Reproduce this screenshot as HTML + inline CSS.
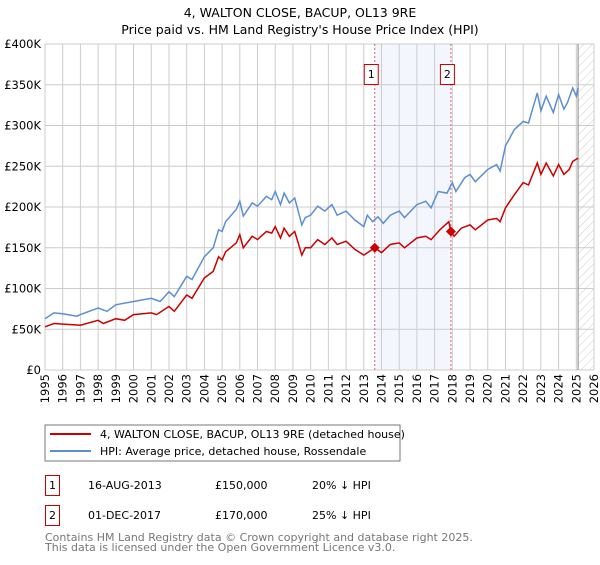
<!DOCTYPE html>
<html><head><meta charset="utf-8"><style>
body{margin:0;background:#fff;font-family:"Liberation Sans","DejaVu Sans",sans-serif}
svg text{font-family:"DejaVu Sans","Liberation Sans",sans-serif}
</style></head><body>
<svg id="c" width="600" height="560" xmlns="http://www.w3.org/2000/svg">
<defs><pattern id="hatch" width="6" height="6" patternUnits="userSpaceOnUse" patternTransform="rotate(45)"><line x1="0" y1="0" x2="0" y2="6" stroke="#ccc" stroke-width="1"/></pattern></defs>
<text x="300" y="17" text-anchor="middle" font-size="12.5" fill="#000">4, WALTON CLOSE, BACUP, OL13 9RE</text>
<text x="300" y="34" text-anchor="middle" font-size="12.5" fill="#000">Price paid vs. HM Land Registry's House Price Index (HPI)</text>
<g id="plot"></g>
<rect x="45" y="425" width="355" height="36" fill="#fff" stroke="#777"/>
<line x1="50" y1="434" x2="91" y2="434" stroke="#cc0000" stroke-width="2"/>
<text x="100" y="438" font-size="11">4, WALTON CLOSE, BACUP, OL13 9RE (detached house)</text>
<line x1="50" y1="451" x2="91" y2="451" stroke="#5b8fd0" stroke-width="2"/>
<text x="100" y="455" font-size="11">HPI: Average price, detached house, Rossendale</text>
<g>
<rect x="45.5" y="475.5" width="14" height="20" fill="#fff" stroke="#cc0000"/>
<text x="52.5" y="489" text-anchor="middle" font-size="11">1</text>
<text x="88" y="489" font-size="11">16-AUG-2013</text>
<text x="215" y="489" font-size="11">£150,000</text>
<text x="312" y="489" font-size="11">20% ↓ HPI</text></g>
<g>
<rect x="45.5" y="505.5" width="14" height="20" fill="#fff" stroke="#cc0000"/>
<text x="52.5" y="519" text-anchor="middle" font-size="11">2</text>
<text x="88" y="519" font-size="11">01-DEC-2017</text>
<text x="215" y="519" font-size="11">£170,000</text>
<text x="312" y="519" font-size="11">25% ↓ HPI</text></g>
<text x="45" y="541" font-size="11" fill="#777">Contains HM Land Registry data © Crown copyright and database right 2025.</text>
<text x="45" y="551" font-size="11" fill="#777">This data is licensed under the Open Government Licence v3.0.</text>
</svg>
<script>
const hpiYears=[1995,1995.5,1996,1996.8,1997,1998,1998.5,1999,2000,2001,2001.5,2002,2002.3,2003,2003.3,2004,2004.5,2004.8,2005,2005.2,2005.8,2006,2006.2,2006.7,2007,2007.5,2007.8,2008,2008.3,2008.5,2008.8,2009.1,2009.3,2009.5,2009.7,2010,2010.4,2010.8,2011.2,2011.5,2012,2012.5,2013,2013.2,2013.5,2013.8,2014.1,2014.5,2015,2015.3,2016,2016.5,2016.8,2017.2,2017.7,2018,2018.2,2018.7,2019,2019.3,2020,2020.5,2020.7,2021,2021.5,2022,2022.3,2022.8,2023,2023.3,2023.7,2024,2024.3,2024.5,2024.8,2025,2025.1];
const hpiValues=[63,70,69,66,68,76,72,80,84,88,84,96,90,115,111,139,150,172,170,182,197,207,189,205,201,213,209,219,203,217,205,211,195,178,187,190,201,195,203,190,195,184,176,190,182,188,180,190,195,187,203,207,199,219,217,230,219,236,240,231,246,252,244,275,295,305,303,340,318,336,316,338,320,328,346,336,346];
const priceYears=[1995,1995.5,1997,1998,1998.3,1999,1999.5,2000,2001,2001.3,2002,2002.3,2003,2003.3,2004,2004.5,2004.8,2005,2005.2,2005.8,2006,2006.2,2006.7,2007,2007.5,2007.8,2008,2008.3,2008.5,2008.8,2009.1,2009.3,2009.5,2009.7,2010,2010.4,2010.8,2011.2,2011.5,2012,2012.5,2013,2013.62,2014,2014.5,2015,2015.3,2016,2016.5,2016.8,2017.3,2017.8,2017.92,2018.1,2018.5,2019,2019.3,2020,2020.5,2020.7,2021,2021.5,2022,2022.3,2022.8,2023,2023.3,2023.7,2024,2024.3,2024.6,2024.8,2025.1];
const priceValues=[53,57,55,61,57,63,61,68,70,68,78,72,92,88,113,121,139,135,145,156,166,150,164,160,170,168,176,162,174,164,170,156,141,150,150,160,154,162,154,158,148,141,150,144,154,156,150,162,164,160,172,182,170,164,174,178,172,184,186,182,199,215,230,227,254,240,254,238,252,240,246,256,260];
const saleYears=[2013.62,2017.92];
const saleValues=[150,170];
const saleLabels=["1","2"];
const yTicks=[0,50,100,150,200,250,300,350,400];
const yTickLabels=["£0","£50K","£100K","£150K","£200K","£250K","£300K","£350K","£400K"];
const xTicks=[1995,1996,1997,1998,1999,2000,2001,2002,2003,2004,2005,2006,2007,2008,2009,2010,2011,2012,2013,2014,2015,2016,2017,2018,2019,2020,2021,2022,2023,2024,2025,2026];

const X0=45,X1=594,Y0=370,Y1=44;
const xs=y=>X0+(y-1995)/(2026-1995)*(X1-X0);
const ys=v=>Y0-v/400*(Y0-Y1);
const NS="http://www.w3.org/2000/svg";
const g=document.getElementById('plot');
function mk(t,a){const e=document.createElementNS(NS,t);for(const k in a)e.setAttribute(k,a[k]);g.appendChild(e);return e;}
let sh=mk('rect',{x:xs(saleYears[0]),y:Y1,width:xs(saleYears[1])-xs(saleYears[0]),height:Y0-Y1,fill:'#eef3fc',opacity:0.7});


let hz=mk('rect',{x:xs(2025.1),y:Y1,width:X1-xs(2025.1),height:Y0-Y1,fill:'url(#hatch)'});


yTicks.forEach((v,i)=>{
  let l=mk('line',{x1:X0,x2:X1,y1:ys(v),y2:ys(v),stroke:'#ccc'});
  
  
  let t=mk('text',{x:X0-4,y:ys(v)+4,'text-anchor':'end','font-size':'11.5'});
  t.textContent=yTickLabels[i];
  
  
});
xTicks.forEach(v=>{
  let l=mk('line',{x1:xs(v),x2:xs(v),y1:Y1,y2:Y0,stroke:'#ccc'});
  
  
  let t=mk('text',{x:0,y:0,'font-size':'11.5','text-anchor':'end',transform:`translate(${xs(v)+4},${Y0+4}) rotate(-90)`});
  t.textContent=v;
  
  
});
let cl=mk('line',{x1:xs(2025.1),x2:xs(2025.1),y1:Y1,y2:Y0,stroke:'#999','stroke-width':1.2});


saleYears.forEach((yr,i)=>{
  let l=mk('line',{x1:xs(yr),x2:xs(yr),y1:Y1,y2:Y0,stroke:'#e06070','stroke-dasharray':'2,2'});
  
  
  let r=mk('rect',{x:xs(yr)-10.5,y:64.5,width:14,height:20,fill:'#fff',stroke:'#cc0000'});
  
  
  let t=mk('text',{x:xs(yr)-3.5,y:78,'text-anchor':'middle','font-size':'11'});
  t.textContent=saleLabels[i];
  
  
});
function path(xa,va){return xa.map((x,i)=>(i?'L':'M')+xs(x).toFixed(1)+','+ys(va[i]).toFixed(1)).join('');}
let hp=mk('path',{d:path(hpiYears,hpiValues),fill:'none',stroke:'#5b8fd0','stroke-width':1.5});


let pp=mk('path',{d:path(priceYears,priceValues),fill:'none',stroke:'#cc0000','stroke-width':1.5});


saleYears.forEach((yr,i)=>{
  let d=mk('path',{d:`M${xs(yr)},${ys(saleValues[i])-5}l5,5l-5,5l-5,-5z`,fill:'#cc0000'});
  
  
});
</script>
</body></html>
